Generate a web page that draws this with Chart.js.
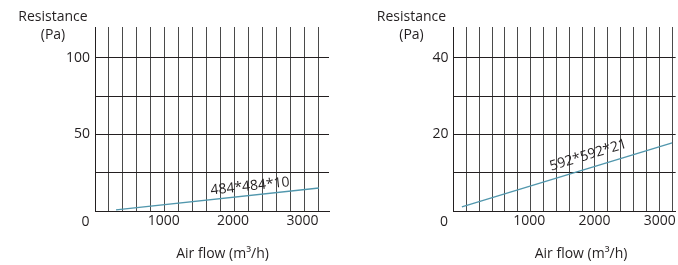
<!DOCTYPE html>
<html>
<head>
<meta charset="utf-8">
<script src="https://cdn.jsdelivr.net/npm/chart.js@4"></script>
<style>
  html, body { margin: 0; padding: 0; background: #fff; }
  #wrap { position: relative; width: 678px; height: 265px; }
  canvas { position: absolute; top: 0; }
  #left { left: 0; }
  #right { left: 339px; }
</style>
</head>
<body>
<div id="wrap">
  <canvas id="left" width="339" height="265"></canvas>
  <canvas id="right" width="339" height="265"></canvas>
</div>
<script>
// data
const flowA = [300, 3200];
const resA = [0.7, 15];
const labelA = '484*484*10';

const flowB = [130, 3400];
const resB = [1.1, 17.8];
const labelB = '592*592*21';

const xTickLabels = [1000, 2000, 3000];
const yTickLabelsA = [50, 100];
const yTickLabelsB = [20, 40];

const yTitle = ['Resistance', '(Pa)'];
const xTitle = 'Air flow (m\u00b3/h)';

const INK = '#231f20';
const LINE = '#5197ad';
Chart.defaults.font.family = "'Open Sans', sans-serif";
Chart.defaults.color = INK;

// titles, corner "0" and the curve label
const textPlugin = {
  id: 'texts',
  afterDraw(chart, args, opts) {
    const { ctx, chartArea, scales } = chart;
    ctx.save();
    ctx.fillStyle = INK;
    ctx.textAlign = 'center';
    ctx.textBaseline = 'middle';
    ctx.font = "14px 'Open Sans'";
    const cx = chartArea.left - 42;
    ctx.fillText(yTitle[0], cx, 17);
    ctx.fillText(yTitle[1], cx, 35.5);
    ctx.fillText('0', chartArea.left - 9.5, 222);
    ctx.fillText(xTitle, chartArea.left + 127.5, 254);

    // label along the line
    const pts = chart.data.datasets[0].data;
    const a = pts[0], b = pts[pts.length - 1];
    const x1 = scales.x.getPixelForValue(a.x), y1 = scales.y.getPixelForValue(a.y);
    const x2 = scales.x.getPixelForValue(b.x), y2 = scales.y.getPixelForValue(b.y);
    const ang = Math.atan2(y2 - y1, x2 - x1);
    const t = (opts.at - a.x) / (b.x - a.x);
    const px = scales.x.getPixelForValue(opts.at);
    const py = scales.y.getPixelForValue(a.y + t * (b.y - a.y));
    ctx.translate(px, py);
    ctx.rotate(ang);
    ctx.fillText(opts.text, 0, -opts.offset);
    ctx.restore();
  }
};

function makeChart(id, flow, res, o) {
  const points = flow.map((f, i) => ({ x: f, y: res[i] }));
  return new Chart(document.getElementById(id), {
    type: 'scatter',
    data: {
      datasets: [{
        data: points,
        showLine: true,
        borderColor: LINE,
        borderWidth: 1.3,
        pointRadius: 0,
        clip: false
      }]
    },
    options: {
      responsive: false,
      animation: false,
      layout: { padding: { top: 27, right: o.padRight, bottom: 0, left: 0 } },
      plugins: {
        legend: { display: false },
        tooltip: { enabled: false },
        texts: { text: o.label, at: o.labelAt, offset: o.labelOffset }
      },
      scales: {
        x: {
          type: 'linear',
          position: 'bottom',
          weight: 0,
          min: 0,
          max: o.xMax,
          grid: { color: '#4a4a4a', lineWidth: 1, drawTicks: false },
          border: { color: INK, width: 1 },
          ticks: { display: false, stepSize: 200, includeBounds: false },
          afterFit: s => { s.height = 0; }
        },
        // tick labels sit slightly off the grid in the original, so they get their own axis
        xl: {
          type: 'linear',
          position: 'bottom',
          weight: 1,
          min: o.lMin,
          max: o.lMax,
          grid: { display: false, drawTicks: false },
          border: { display: false },
          ticks: {
            autoSkip: false,
            maxRotation: 0,
            padding: 2,
            font: { size: 14 },
            callback: v => String(v)
          },
          afterBuildTicks: s => { s.ticks = xTickLabels.map(v => ({ value: v })); },
          afterFit: s => { s.height = 54; }
        },
        y: {
          type: 'linear',
          min: 0,
          max: o.yMax,
          grid: { color: INK, lineWidth: 1, drawTicks: false },
          border: { color: INK, width: 1 },
          ticks: {
            stepSize: o.yStep,
            includeBounds: false,
            padding: 5,
            font: { size: 14 },
            callback: v => o.yLabels.includes(v) ? String(v) : ''
          },
          afterFit: s => { s.width = o.yWidth; }
        }
      }
    },
    plugins: [textPlugin]
  });
}

makeChart('left', flowA, resA, {
  padRight: 10, xMax: 3343, lMin: 10, lMax: 3382,
  yMax: 120, yStep: 25, yLabels: yTickLabelsA, yWidth: 95,
  label: labelA, labelAt: 2230, labelOffset: 9
});
makeChart('right', flowB, resB, {
  padRight: 0, xMax: 3454, lMin: -159, lMax: 3242,
  yMax: 48, yStep: 10, yLabels: yTickLabelsB, yWidth: 114.5,
  label: labelB, labelAt: 2150, labelOffset: 12.5
});
</script>
</body>
</html>
